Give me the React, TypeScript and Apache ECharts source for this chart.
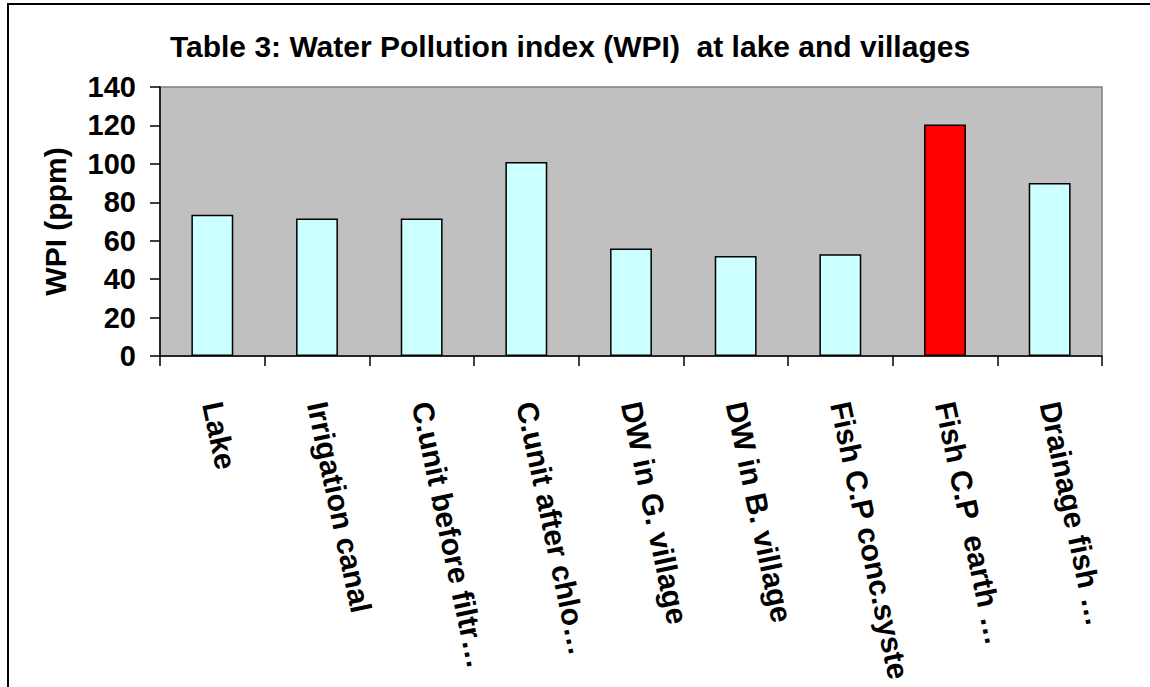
import React, { useEffect, useRef } from "react";
import * as echarts from "echarts";

const categories = [
  "Lake",
  "Irrigation canal",
  "C.unit before filtr…",
  "C.unit after chlo…",
  "DW in G. village",
  "DW in B. village",
  "Fish C.P conc.syste",
  "Fish C.P  earth …",
  "Drainage fish …",
];
const wpiValues = [73.5, 71.5, 71.5, 101, 56, 52, 53, 120.5, 90];
const highlightIndex = 7;
const yTicks = { min: 0, max: 140, interval: 20 };

const FONT = "'Liberation Sans', Arial, sans-serif";

export default function App() {
  const ref = useRef<HTMLDivElement>(null);
  useEffect(() => {
    if (!ref.current) return;
    const chart = echarts.init(ref.current, null, { renderer: "svg" });
    chart.setOption({
      animation: false,
      backgroundColor: "#ffffff",
      title: {
        text: "Table 3: Water Pollution index (WPI)  at lake and villages",
        left: 565,
        textAlign: "center",
        top: 26,
        textStyle: { fontFamily: FONT, fontSize: 30, fontWeight: "bold", color: "#000" },
      },
      graphic: [
        {
          type: "rect",
          shape: { x: 8, y: 4, width: 1300, height: 900 },
          style: { fill: "none", stroke: "#000", lineWidth: 2 },
          silent: true,
        },
      ],
      grid: {
        left: 160,
        top: 87,
        right: 48,
        bottom: 331,
        show: true,
        backgroundColor: "#c0c0c0",
        borderColor: "#808080",
        borderWidth: 1.5,
        containLabel: false,
      },
      xAxis: {
        type: "category",
        data: categories,
        axisLine: { lineStyle: { color: "#000", width: 1.5 } },
        axisTick: { show: true, length: 10, lineStyle: { color: "#000", width: 1.5 } },
        axisLabel: {
          interval: 0,
          rotate: -78,
          margin: 46,
          fontFamily: FONT,
          fontSize: 30,
          fontWeight: "bold",
          color: "#000",
        },
        splitLine: { show: false },
      },
      yAxis: {
        type: "value",
        min: yTicks.min,
        max: yTicks.max,
        interval: yTicks.interval,
        name: "WPI (ppm)",
        nameLocation: "middle",
        nameGap: 90,
        nameRotate: 90,
        nameTextStyle: { fontFamily: FONT, fontSize: 30, fontWeight: "bold", color: "#000" },
        axisLine: { show: true, lineStyle: { color: "#000", width: 1.5 } },
        axisTick: { show: true, length: 10, lineStyle: { color: "#000", width: 1.5 } },
        axisLabel: {
          margin: 24,
          fontFamily: FONT,
          fontSize: 29,
          fontWeight: "bold",
          color: "#000",
        },
        splitLine: { show: false },
      },
      series: [
        {
          type: "bar",
          barWidth: "40%",
          data: wpiValues.map((v, i) => ({
            value: v,
            itemStyle: {
              color: i === highlightIndex ? "#ff0000" : "#ccffff",
              borderColor: "#000",
              borderWidth: 1.5,
            },
          })),
        },
      ],
    });
    return () => chart.dispose();
  }, []);
  return (
    <div
      ref={ref}
      style={{ position: "absolute", left: 0, top: 0, width: 1150, height: 687 }}
    />
  );
}
